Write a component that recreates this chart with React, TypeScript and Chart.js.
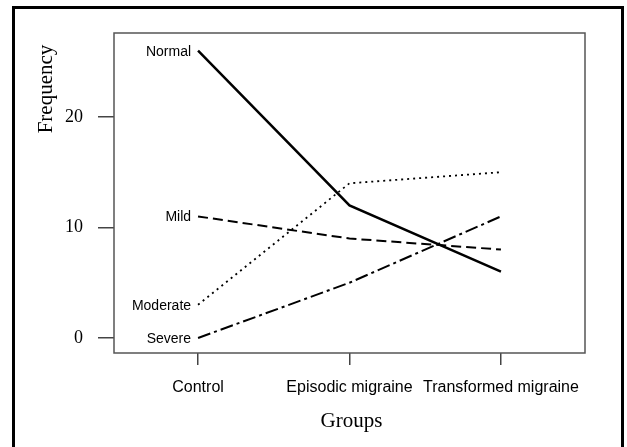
import React, { useEffect, useRef } from "react";
import { Chart, registerables } from "chart.js";

Chart.register(...registerables);

const groups = ["Control", "Episodic migraine", "Transformed migraine"];
const seriesNames = ["Normal", "Mild", "Moderate", "Severe"];
const normal = [26, 12, 6];
const mild = [11, 9, 8];
const moderate = [3, 14, 15];
const severe = [0, 5, 11];
const yTicks = [0, 10, 20];
const xTitle = "Groups";
const yTitle = "Frequency";

const seriesValues = [normal, mild, moderate, severe];
const seriesDash: number[][] = [[], [10, 5], [2, 4], [13, 4, 3, 4]];
const seriesWidth = [2.5, 2, 1.8, 2];

const decorPlugin = {
  id: "decor",
  beforeDatasetsDraw(chart: any) {
    const { ctx, chartArea } = chart;
    ctx.save();
    ctx.strokeStyle = "#555";
    ctx.lineWidth = 1.5;
    ctx.strokeRect(chartArea.left, chartArea.top, chartArea.right - chartArea.left, chartArea.bottom - chartArea.top);
    ctx.restore();
  },
  afterDraw(chart: any) {
    const { ctx, chartArea } = chart;
    ctx.save();
    // outer frame
    ctx.strokeStyle = "#000";
    ctx.lineWidth = 3;
    ctx.strokeRect(13.5, 7.5, 609, 460);
    // series labels
    ctx.fillStyle = "#000";
    ctx.font = "14px 'Liberation Sans', Arial, sans-serif";
    ctx.textAlign = "right";
    ctx.textBaseline = "middle";
    chart.data.datasets.forEach((ds: any, i: number) => {
      const meta = chart.getDatasetMeta(i);
      const p = meta.data[0];
      if (p) ctx.fillText(ds.label, p.x - 7, p.y + 1);
    });
    // x title
    ctx.font = "21px 'Liberation Serif', 'Times New Roman', serif";
    ctx.textAlign = "center";
    ctx.textBaseline = "alphabetic";
    ctx.fillText(xTitle, (chartArea.left + chartArea.right) / 2 + 2, 427);
    // y title
    ctx.translate(52, 89);
    ctx.rotate(-Math.PI / 2);
    ctx.fillText(yTitle, 0, 0);
    ctx.restore();
  },
};

export default function App() {
  const ref = useRef<HTMLCanvasElement | null>(null);
  useEffect(() => {
    document.body.style.margin = "0";
    if (!ref.current) return;
    const chart = new Chart(ref.current, {
      type: "line",
      data: {
        datasets: seriesNames.map((name, i) => ({
          label: name,
          data: seriesValues[i].map((v, j) => ({ x: j, y: v })),
          borderColor: "#000",
          backgroundColor: "#000",
          borderWidth: seriesWidth[i],
          borderDash: seriesDash[i],
          pointRadius: 0,
          tension: 0,
          fill: false,
        })),
      },
      options: {
        animation: false,
        responsive: false,
        devicePixelRatio: 1,
        layout: { padding: { left: 0, top: 33, right: 42, bottom: 0 } },
        plugins: { legend: { display: false }, tooltip: { enabled: false } },
        scales: {
          x: {
            type: "linear",
            min: -0.555,
            max: 2.555,
            afterFit: (s: any) => { s.height = 94; },
            afterBuildTicks: (s: any) => { s.ticks = groups.map((_, i) => ({ value: i })); },
            ticks: {
              callback: (v: any) => groups[v as number] ?? "",
              font: { family: "'Liberation Sans', Arial, sans-serif", size: 16 },
              color: "#000",
              padding: 13,
              maxRotation: 0,
              autoSkip: false,
            },
            grid: { display: true, drawOnChartArea: false, drawTicks: true, tickLength: 12, color: "#444", lineWidth: 1.5 },
            border: { display: false },
          },
          y: {
            type: "linear",
            min: -1.36,
            max: 27.6,
            afterFit: (s: any) => { s.width = 114; },
            afterBuildTicks: (s: any) => { s.ticks = yTicks.map((v) => ({ value: v })); },
            ticks: {
              font: { family: "'Liberation Serif', 'Times New Roman', serif", size: 18 },
              color: "#000",
              padding: 15,
            },
            grid: { display: true, drawOnChartArea: false, drawTicks: true, tickLength: 16, color: "#444", lineWidth: 1.5 },
            border: { display: false },
          },
        },
      },
      plugins: [decorPlugin],
    });
    return () => chart.destroy();
  }, []);
  return (
    <div style={{ width: 627, height: 447, background: "#fff" }}>
      <canvas ref={ref} width={627} height={447} style={{ display: "block" }} />
    </div>
  );
}
